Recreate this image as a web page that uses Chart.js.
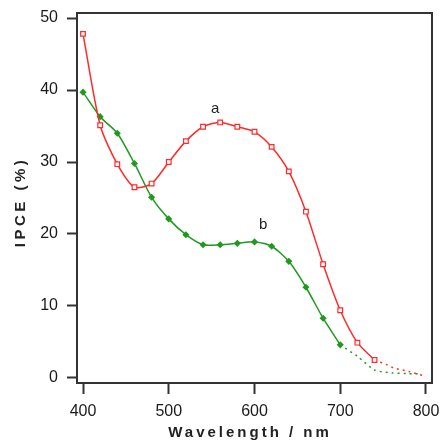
<!DOCTYPE html>
<html>
<head>
<meta charset="utf-8">
<script src="https://cdn.jsdelivr.net/npm/chart.js@4.4.0/dist/chart.umd.min.js"></script>
<style>
  html, body { margin: 0; padding: 0; background: #fff; }
  #wrap { width: 443px; height: 443px; position: relative; }
</style>
</head>
<body>
<div id="wrap"><canvas id="grafico"></canvas></div>
<script>
// wavelengths (nm)
const waveA = [400, 420, 440, 460, 480, 500, 520, 540, 560, 580, 600, 620, 640, 660, 680, 700, 720, 740];
const ipceA = [47.8, 35.1, 29.7, 26.5, 27.0, 30.0, 32.9, 34.9, 35.5, 34.9, 34.2, 32.1, 28.7, 23.1, 15.8, 9.4, 4.9, 2.5];
const waveB = [400, 420, 440, 460, 480, 500, 520, 540, 560, 580, 600, 620, 640, 660, 680, 700];
const ipceB = [39.7, 36.3, 34.0, 29.8, 25.1, 22.1, 19.9, 18.5, 18.5, 18.7, 18.9, 18.3, 16.2, 12.6, 8.3, 4.6];
// dotted tails
const tailWaveA = [740, 755, 762, 780, 800];
const tailIpceA = [2.5, 1.8, 1.4, 0.9, 0.2];
const tailWaveB = [700, 720, 740, 760, 780, 795];
const tailIpceB = [4.6, 3.0, 1.1, 0.7, 0.6, 0.6];

const xTicks = [400, 500, 600, 700, 800];
const yTicks = [0, 10, 20, 30, 40, 50];
const curveLabels = [{ text: 'a', x: 554, y: 37.4 }, { text: 'b', x: 610, y: 21.3 }];

const rojo = '#ff2a2a';
const verde = '#1f9a1f';

function pts(xs, ys) {
  return xs.map((x, i) => ({ x: x, y: ys[i] }));
}

// caixa + titulos + letras a/b
const extras = {
  id: 'extras',
  afterDraw(chart) {
    const ctx = chart.ctx;
    const a = chart.chartArea;
    const sx = chart.scales.x, sy = chart.scales.y;
    ctx.save();
    ctx.strokeStyle = '#333';
    ctx.lineWidth = 2;
    ctx.beginPath();
    ctx.moveTo(a.left, a.top);
    ctx.lineTo(a.right, a.top);
    ctx.lineTo(a.right, a.bottom);
    ctx.stroke();

    ctx.fillStyle = '#222';
    ctx.font = '15px "Liberation Sans", Arial, sans-serif';
    ctx.textAlign = 'center';
    ctx.textBaseline = 'middle';
    curveLabels.forEach(l => {
      ctx.fillText(l.text, sx.getPixelForValue(l.x), sy.getPixelForValue(l.y));
    });

    ctx.font = 'bold 15px "Liberation Sans", Arial, sans-serif';
    ctx.letterSpacing = '3px';
    ctx.fillText('Wavelength / nm', 250, 433);
    ctx.translate(21, 202);
    ctx.rotate(-Math.PI / 2);
    ctx.letterSpacing = '3.5px';
    ctx.fillText('IPCE (%)', 0, 0);
    ctx.restore();
  }
};

const tickFont = { family: '"Liberation Sans", Arial, sans-serif', size: 16 };

new Chart(document.getElementById('grafico'), {
  type: 'line',
  data: {
    datasets: [
      {
        data: pts(waveA, ipceA),
        borderColor: rojo, borderWidth: 1.5, tension: 0.25,
        pointStyle: 'rect', pointRadius: 3.3, pointBorderWidth: 1.2,
        pointBorderColor: rojo, pointBackgroundColor: '#fff'
      },
      {
        data: pts(waveB, ipceB),
        borderColor: verde, borderWidth: 1.5, tension: 0.25,
        pointStyle: 'rectRot', pointRadius: 2.5,
        pointBorderColor: verde, pointBackgroundColor: verde
      },
      {
        data: pts(tailWaveA, tailIpceA),
        borderColor: rojo, borderWidth: 1.5, borderDash: [2, 4], tension: 0.2,
        pointRadius: 0
      },
      {
        data: pts(tailWaveB, tailIpceB),
        borderColor: verde, borderWidth: 1.5, borderDash: [2, 4], tension: 0.2,
        pointRadius: 0
      }
    ]
  },
  options: {
    responsive: true,
    maintainAspectRatio: false,
    animation: false,
    layout: { padding: { left: 0, top: 13, right: 11, bottom: 0 } },
    plugins: { legend: { display: false }, tooltip: { enabled: false } },
    scales: {
      x: {
        type: 'linear', min: 393, max: 807,
        afterBuildTicks: s => { s.ticks = xTicks.map(v => ({ value: v })); },
        afterFit: s => { s.height = 60; s.paddingLeft = 0; s.paddingRight = 0; },
        ticks: { color: '#1a1a1a', font: tickFont, padding: 8, maxRotation: 0 },
        grid: { drawOnChartArea: false, tickLength: 11, tickColor: '#333', tickWidth: 2 },
        border: { color: '#333', width: 2 }
      },
      y: {
        min: -0.7, max: 50.7,
        afterBuildTicks: s => { s.ticks = yTicks.map(v => ({ value: v })); },
        afterFit: s => { s.width = 77; s.paddingTop = 0; s.paddingBottom = 0; },
        ticks: { color: '#1a1a1a', font: tickFont, padding: 9 },
        grid: { drawOnChartArea: false, tickLength: 10, tickColor: '#333', tickWidth: 2 },
        border: { color: '#333', width: 2 }
      }
    }
  },
  plugins: [extras]
});
</script>
</body>
</html>
